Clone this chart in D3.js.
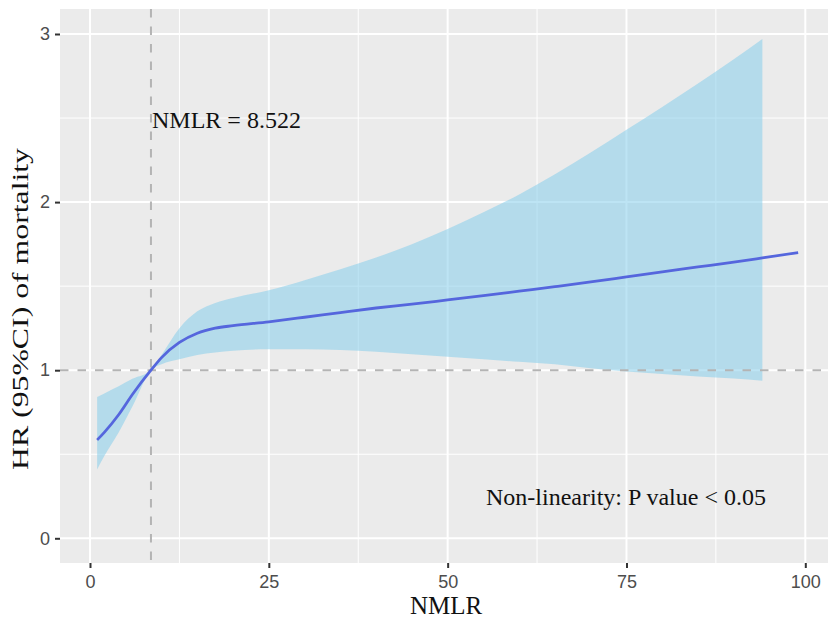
<!DOCTYPE html>
<html>
<head>
<meta charset="utf-8">
<script src="https://cdn.jsdelivr.net/npm/d3@7"></script>
<style>
  html, body { margin: 0; padding: 0; background: #fff; }
  svg { display: block; }
</style>
</head>
<body>
<div id="chart"></div>
<script>
const nmlrLine = [1, 2, 4, 6, 8.522, 10, 12.5, 15, 17.5, 20, 25, 30, 35, 40, 45, 50, 55, 60, 65, 70, 75, 80, 85, 90, 94, 99]
const hrLine   = [0.585, 0.63, 0.735, 0.86, 1.0, 1.075, 1.165, 1.22, 1.25, 1.265, 1.288, 1.315, 1.343, 1.37, 1.393, 1.418, 1.443, 1.47, 1.497, 1.525, 1.555, 1.585, 1.614, 1.643, 1.668, 1.70]

// confidence band (stops at 94)
const nmlrBand = [1, 2, 4, 6, 8.522, 10, 12.5, 15, 17.5, 20, 25, 30, 35, 40, 45, 50, 55, 60, 65, 70, 75, 80, 85, 90, 94]
const hrUpper  = [0.84, 0.862, 0.905, 0.95, 1.0, 1.09, 1.25, 1.35, 1.40, 1.43, 1.475, 1.535, 1.60, 1.67, 1.75, 1.84, 1.94, 2.045, 2.165, 2.295, 2.43, 2.565, 2.705, 2.85, 2.97]
const hrLower  = [0.41, 0.49, 0.63, 0.79, 1.0, 1.035, 1.065, 1.09, 1.105, 1.115, 1.125, 1.125, 1.12, 1.11, 1.095, 1.08, 1.065, 1.05, 1.035, 1.012, 0.992, 0.977, 0.963, 0.95, 0.937]

const xTicks = [0, 25, 50, 75, 100]
const yTicks = [0, 1, 2, 3]
const cutoff = 8.522
const refHR = 1

const W = 828, H = 619
const panel = { left: 60, right: 828, top: 9, bottom: 563 }

const x = d3.scaleLinear().domain([0, 100]).range([90, 805.3])
const y = d3.scaleLinear().domain([0, 3]).range([538.3, 34])

const svg = d3.select("#chart").append("svg")
    .attr("width", W)
    .attr("height", H)

// panel background
svg.append("rect")
    .attr("x", panel.left).attr("y", panel.top)
    .attr("width", panel.right - panel.left)
    .attr("height", panel.bottom - panel.top)
    .attr("fill", "#ebebeb")

const grid = svg.append("g")
// minor grid
const xMinor = xTicks.slice(0, -1).map(d => d + 12.5)
const yMinor = yTicks.slice(0, -1).map(d => d + 0.5)
grid.selectAll(".xminor").data(xMinor).enter().append("line")
    .attr("x1", d => x(d)).attr("x2", d => x(d))
    .attr("y1", panel.top).attr("y2", panel.bottom)
    .attr("stroke", "#fff").attr("stroke-width", 1)
grid.selectAll(".yminor").data(yMinor).enter().append("line")
    .attr("y1", d => y(d)).attr("y2", d => y(d))
    .attr("x1", panel.left).attr("x2", panel.right)
    .attr("stroke", "#fff").attr("stroke-width", 1)
// major grid
grid.selectAll(".xmajor").data(xTicks).enter().append("line")
    .attr("x1", d => x(d)).attr("x2", d => x(d))
    .attr("y1", panel.top).attr("y2", panel.bottom)
    .attr("stroke", "#fff").attr("stroke-width", 2)
grid.selectAll(".ymajor").data(yTicks).enter().append("line")
    .attr("y1", d => y(d)).attr("y2", d => y(d))
    .attr("x1", panel.left).attr("x2", panel.right)
    .attr("stroke", "#fff").attr("stroke-width", 2)

// ribbon
const band = nmlrBand.map((d, i) => ({ x: d, lo: hrLower[i], hi: hrUpper[i] }))
const area = d3.area()
    .x(d => x(d.x))
    .y0(d => y(d.lo))
    .y1(d => y(d.hi))
    .curve(d3.curveMonotoneX)
svg.append("path")
    .datum(band)
    .attr("d", area)
    .attr("fill", "#87ceeb")
    .attr("fill-opacity", 0.55)

// reference lines
svg.append("line")
    .attr("x1", panel.left).attr("x2", panel.right)
    .attr("y1", y(refHR)).attr("y2", y(refHR))
    .attr("stroke", "#b4b4b4").attr("stroke-width", 2)
    .attr("stroke-dasharray", "8.5,9")
svg.append("line")
    .attr("x1", x(cutoff)).attr("x2", x(cutoff))
    .attr("y1", panel.top).attr("y2", panel.bottom)
    .attr("stroke", "#b4b4b4").attr("stroke-width", 2)
    .attr("stroke-dasharray", "8.5,9")

// fitted line
const pts = nmlrLine.map((d, i) => ({ x: d, y: hrLine[i] }))
const line = d3.line()
    .x(d => x(d.x))
    .y(d => y(d.y))
    .curve(d3.curveMonotoneX)
svg.append("path")
    .datum(pts)
    .attr("d", line)
    .attr("fill", "none")
    .attr("stroke", "#5566dd")
    .attr("stroke-width", 2.8)

// axes
const xAxis = svg.append("g")
    .attr("transform", `translate(0,${panel.bottom})`)
    .call(d3.axisBottom(x).tickValues(xTicks).tickSize(5).tickPadding(7).tickFormat(d3.format("d")))
const yAxis = svg.append("g")
    .attr("transform", `translate(${panel.left},0)`)
    .call(d3.axisLeft(y).tickValues(yTicks).tickSize(5).tickPadding(5).tickFormat(d3.format("d")))
;[xAxis, yAxis].forEach(a => {
    a.select(".domain").remove()
    a.selectAll(".tick line").attr("stroke", "#333").attr("stroke-width", 2)
    a.selectAll(".tick text")
        .attr("fill", "#4d4d4d")
        .style("font-family", "'Liberation Sans', Arial, sans-serif")
        .style("font-size", "18px")
})

// annotations
const serif = "'Liberation Serif', 'Times New Roman', serif"
svg.append("text")
    .attr("x", 152).attr("y", 128)
    .style("font-family", serif).style("font-size", "24px")
    .attr("fill", "#111")
    .text("NMLR = 8.522")
svg.append("text")
    .attr("x", 486).attr("y", 505)
    .style("font-family", serif).style("font-size", "24px")
    .attr("fill", "#111")
    .text("Non-linearity: P value < 0.05")

// axis titles
svg.append("text")
    .attr("x", (panel.left + panel.right) / 2 + 2).attr("y", 614)
    .attr("text-anchor", "middle")
    .style("font-family", serif).style("font-size", "25px")
    .attr("fill", "#111")
    .text("NMLR")
svg.append("text")
    .attr("transform", `translate(28,309) rotate(-90)`)
    .attr("text-anchor", "middle")
    .attr("textLength", 322)
    .attr("lengthAdjust", "spacingAndGlyphs")
    .style("font-family", serif).style("font-size", "24px")
    .attr("fill", "#111")
    .text("HR (95%CI) of mortality")
</script>
</body>
</html>
